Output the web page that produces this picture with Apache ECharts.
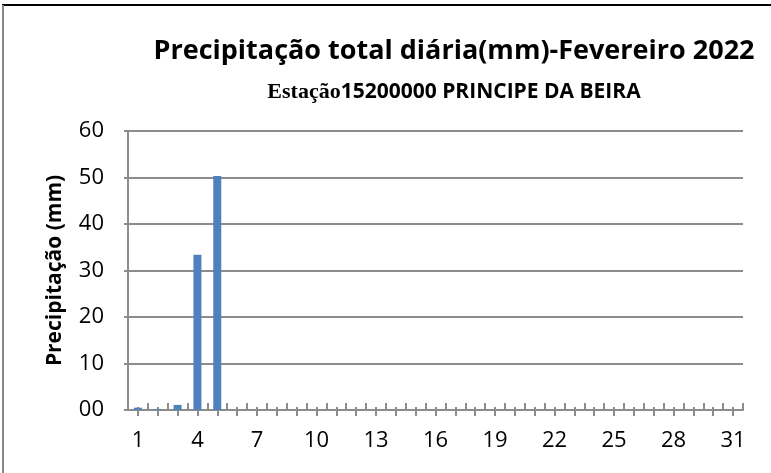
<!DOCTYPE html>
<html><head><meta charset="utf-8">
<script src="https://cdn.jsdelivr.net/npm/echarts@6/dist/echarts.min.js"></script>
<style>html,body{margin:0;padding:0;background:#fff}#c{width:771px;height:473px}</style>
</head><body><div id="c"></div>
<script>
const days = Array.from({length:31},(_,i)=>String(i+1));
const rain = [0.5,0.2,1.1,33.4,50.3,0,0,0,0,0,0,0,0,0,0,0,0,0,0,0,0,0,0,0,0,0,0,0,0,0,0];
const yTicks = {min:0, max:60, interval:10};
const titleText = 'Precipitação total diária(mm)-Fevereiro 2022';
const subPrefix = 'Estação';
const subRest = '15200000 PRINCIPE DA BEIRA';
const yName = 'Precipitação (mm)';

const chart = echarts.init(document.getElementById('c'));
const font = "'Open Sans', 'Liberation Sans', sans-serif";
const grid = {left:128, right:28, top:131, bottom:63};
chart.setOption({
  animation:false,
  textStyle:{fontFamily:font},
  title:[{
    text:titleText, left:449, top:33, textAlign:'center',
    textStyle:{fontFamily:font, fontWeight:'bold', fontSize:27, color:'#000'}
  },{
    text:'{a|'+subPrefix+'}{b|'+subRest+'}', left:449, top:76, textAlign:'center',
    textStyle:{rich:{
      a:{fontFamily:"'Liberation Serif', serif", fontWeight:'bold', fontSize:22, color:'#000'},
      b:{fontFamily:font, fontWeight:'bold', fontSize:21, color:'#000'}
    }}
  }],
  grid:grid,
  xAxis:[{
    type:'category', data:days, position:'bottom',
    axisLine:{lineStyle:{color:'#8c8c8c', width:2}},
    axisTick:{show:true, interval:0, alignWithLabel:true, inside:false, length:6, lineStyle:{color:'#8c8c8c', width:2}},
    axisLabel:{interval:2, color:'#000', fontSize:22, margin:20, fontFamily:font},
    splitLine:{show:false}
  },{
    type:'category', data:days, position:'bottom',
    axisLine:{show:false},
    axisTick:{show:true, interval:0, alignWithLabel:false, inside:true, length:7, lineStyle:{color:'#8c8c8c', width:2}},
    axisLabel:{show:false}
  },{
    type:'category', data:days, position:'bottom',
    axisLine:{show:false},
    axisTick:{show:true, interval:0, alignWithLabel:true, inside:true, length:3, lineStyle:{color:'#8c8c8c', width:2}},
    axisLabel:{show:false}
  }],
  yAxis:{
    type:'value', min:yTicks.min, max:yTicks.max, interval:yTicks.interval,
    name:yName, nameLocation:'middle', nameGap:62,
    nameTextStyle:{fontFamily:font, fontWeight:'bold', fontSize:21, color:'#000'},
    axisLine:{show:true, lineStyle:{color:'#8c8c8c', width:2}},
    axisTick:{show:true, length:4, lineStyle:{color:'#8c8c8c', width:2}},
    axisLabel:{color:'#000', fontSize:22, margin:24, fontFamily:font,
      formatter:v=>String(v).padStart(2,'0')},
    splitLine:{lineStyle:{color:'#8c8c8c', width:2}}
  },
  series:[{
    type:'bar', data:rain, barWidth:8, xAxisIndex:0,
    itemStyle:{color:'#4f81bd'}
  }],
  graphic:[
    {type:'line', shape:{x1:2, y1:5, x2:771, y2:5}, style:{stroke:'#000', lineWidth:2}},
    {type:'line', shape:{x1:3, y1:5, x2:3, y2:473}, style:{stroke:'#888', lineWidth:2}}
  ]
});
</script></body></html>
